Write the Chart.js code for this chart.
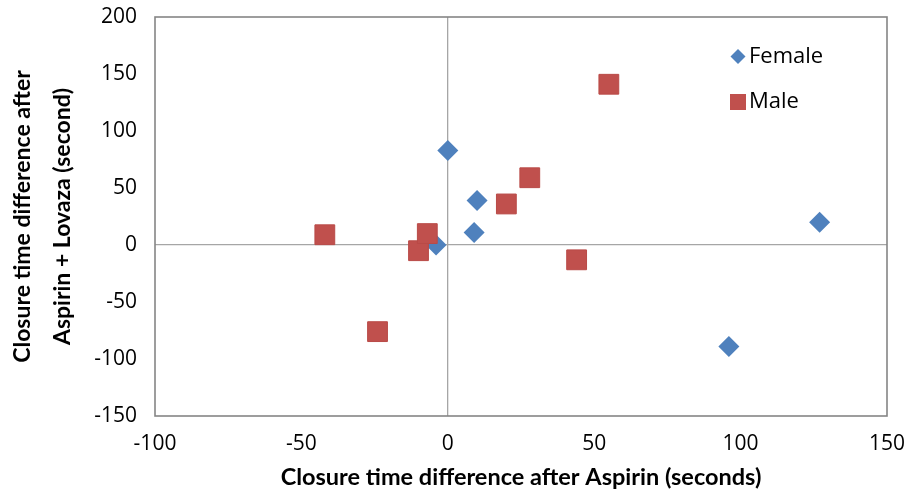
<!DOCTYPE html>
<html>
<head>
<meta charset="utf-8">
<script src="https://cdn.jsdelivr.net/npm/chart.js@4.4.0/dist/chart.umd.min.js"></script>
<style>
  html, body { margin: 0; padding: 0; background: #fff; }
  #wrap { width: 912px; height: 496px; }
</style>
</head>
<body>
<div id="wrap"><canvas id="chart" width="912" height="496"></canvas></div>
<script>
// values
const femaleX = [0, 10, 9, -4, 96, 127];
const femaleY = [83, 39, 11, 0, -89, 20];
const maleX = [-42, -24, -10, -7, 20, 28, 44, 55];
const maleY = [9, -76, -5, 10, 36, 59, -13, 141];
const seriesNames = ["Female", "Male"];
const xTitle = "Closure time difference after Aspirin (seconds)";
const yTitle = ["Closure time difference after", "Aspirin + Lovaza (second)"];

const BLUE = "#4f81bd";
const RED = "#c0504d";

function toPoints(xs, ys) {
  return xs.map((x, i) => ({ x: x, y: ys[i] }));
}

// frame around the plot area + small legend in the top right
const framePlugin = {
  id: "frame",
  beforeDatasetsDraw(chart) {
    const { ctx, chartArea: a } = chart;
    ctx.save();
    ctx.strokeStyle = "#858585";
    ctx.lineWidth = 1.6;
    ctx.strokeRect(a.left, a.top, a.right - a.left, a.bottom - a.top);
    ctx.restore();
  },
  afterDraw(chart) {
    const { ctx } = chart;
    ctx.save();
    ctx.font = "22px 'Open Sans'";
    ctx.textBaseline = "middle";
    // Female
    ctx.fillStyle = BLUE;
    ctx.beginPath();
    ctx.moveTo(738, 49); ctx.lineTo(745.5, 56.5); ctx.lineTo(738, 64); ctx.lineTo(730.5, 56.5);
    ctx.closePath();
    ctx.fill();
    ctx.fillStyle = "#000";
    ctx.fillText(seriesNames[0], 749, 57);
    // Male
    ctx.fillStyle = RED;
    ctx.fillRect(730, 94, 16, 16);
    ctx.fillStyle = "#000";
    ctx.fillText(seriesNames[1], 749, 102);
    ctx.restore();
  }
};

const zeroGrid = c => (c.tick && c.tick.value === 0 ? "#a6a6a6" : "rgba(0,0,0,0)");

new Chart(document.getElementById("chart"), {
  type: "scatter",
  data: {
    datasets: [
      {
        label: seriesNames[0],
        data: toPoints(femaleX, femaleY),
        pointStyle: "rectRot",
        pointRadius: 10.5,
        backgroundColor: BLUE,
        borderColor: BLUE,
        borderWidth: 0,
        order: 1
      },
      {
        label: seriesNames[1],
        data: toPoints(maleX, maleY),
        pointStyle: "rect",
        pointRadius: 14,
        backgroundColor: RED,
        borderColor: "#b94a47",
        borderWidth: 1,
        order: 0
      }
    ]
  },
  options: {
    responsive: false,
    animation: false,
    devicePixelRatio: 1,
    layout: { autoPadding: false, padding: { top: 17, right: 25, left: 0, bottom: 0 } },
    plugins: {
      legend: { display: false },
      tooltip: { enabled: false }
    },
    scales: {
      x: {
        type: "linear",
        min: -100,
        max: 150,
        ticks: {
          stepSize: 50,
          padding: 15,
          color: "#000",
          font: { family: "'Open Sans'", size: 21 }
        },
        grid: { color: zeroGrid, lineWidth: 1.3, drawTicks: false },
        border: { display: false },
        title: {
          display: true,
          text: xTitle,
          color: "#000",
          padding: { top: 0, bottom: 4 },
          font: { family: "Lato", size: 23.5, weight: "bold" }
        },
        afterFit(scale) {
          scale.height = 80;
          scale.paddingLeft = 0;
          scale.paddingRight = 0;
        }
      },
      y: {
        type: "linear",
        min: -150,
        max: 200,
        ticks: {
          stepSize: 50,
          padding: 18,
          color: "#000",
          font: { family: "'Open Sans'", size: 21 }
        },
        grid: { color: zeroGrid, lineWidth: 1.3, drawTicks: false },
        border: { display: false },
        title: {
          display: true,
          text: yTitle,
          color: "#000",
          padding: { top: 3.5, bottom: 0 },
          font: { family: "Lato", size: 23, weight: "bold", lineHeight: 1.7 }
        },
        afterFit(scale) {
          scale.width = 155;
          scale.paddingTop = 0;
          scale.paddingBottom = 0;
        }
      }
    }
  },
  plugins: [framePlugin]
});
</script>
</body>
</html>
